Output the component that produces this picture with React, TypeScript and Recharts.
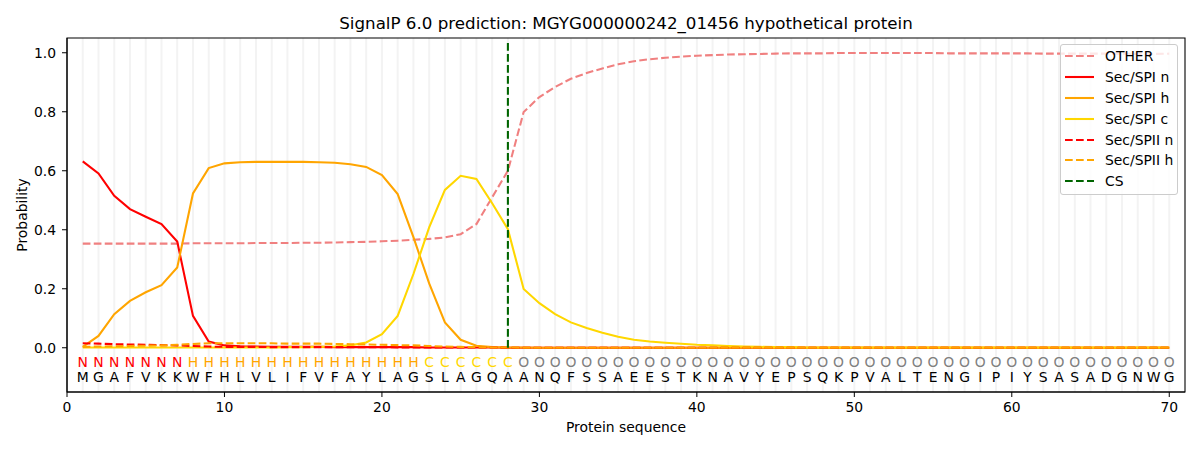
import React from "react";
import { LineChart, Line, XAxis, YAxis, ReferenceLine, ReferenceArea, Legend } from "recharts";

document.body.style.margin = "0";

const FONT = "'DejaVu Sans', Verdana, sans-serif";

const RESIDUES = "MGAFVKKWFHLVLIFVFAYLAGSLAGQAANQFSSAEESTKNAVYEPSQKPVALTENGIPIYSASADGNWG".split("");
const REGIONS = "NNNNNNNHHHHHHHHHHHHHHHCCCCCCOOOOOOOOOOOOOOOOOOOOOOOOOOOOOOOOOOOOOOOOOO".split("");

const OTHER = [
  0.353, 0.353, 0.353, 0.353, 0.353, 0.353, 0.353, 0.354, 0.354, 0.354,
  0.354, 0.355, 0.355, 0.355, 0.356, 0.356, 0.357, 0.358, 0.359, 0.361,
  0.363, 0.366, 0.369, 0.374, 0.385, 0.419, 0.51, 0.6, 0.799, 0.85,
  0.884, 0.912, 0.931, 0.947, 0.961, 0.971, 0.978, 0.983, 0.987, 0.99,
  0.992, 0.994, 0.995, 0.996, 0.997, 0.998, 0.998, 0.998, 0.999, 0.999,
  0.999, 0.999, 0.999, 0.999, 0.999, 0.998, 0.998, 0.998, 0.998, 0.998,
  0.998, 0.997, 0.997, 0.997, 0.997, 0.997, 0.997, 0.996, 0.996, 0.997,
];

const SPI_N = [
  0.632, 0.591, 0.515, 0.47, 0.444, 0.419, 0.36, 0.108, 0.021, 0.008,
  0.005, 0.004, 0.003, 0.003, 0.003, 0.003, 0.002, 0.002, 0.002, 0.002,
  0.002, 0.002, 0.001, 0.001, 0.001, 0.001, 0.001, 0, 0, 0,
  0, 0, 0, 0, 0, 0, 0, 0, 0, 0,
  0, 0, 0, 0, 0, 0, 0, 0, 0, 0,
  0, 0, 0, 0, 0, 0, 0, 0, 0, 0,
  0, 0, 0, 0, 0, 0, 0, 0, 0, 0,
];

const SPI_H = [
  0.003, 0.04, 0.114, 0.159, 0.188, 0.212, 0.272, 0.523, 0.609, 0.625,
  0.629, 0.63, 0.63, 0.63, 0.63, 0.629, 0.627, 0.622, 0.613, 0.585,
  0.521, 0.375, 0.218, 0.086, 0.027, 0.007, 0.002, 0.001, 0.001, 0,
  0, 0, 0, 0, 0, 0, 0, 0, 0, 0,
  0, 0, 0, 0, 0, 0, 0, 0, 0, 0,
  0, 0, 0, 0, 0, 0, 0, 0, 0, 0,
  0, 0, 0, 0, 0, 0, 0, 0, 0, 0,
];

const SPI_C = [
  0.001, 0.001, 0.001, 0.001, 0.001, 0.001, 0.001, 0.001, 0.001, 0.001,
  0.001, 0.001, 0.001, 0.002, 0.002, 0.003, 0.004, 0.008, 0.018, 0.046,
  0.108, 0.25, 0.408, 0.535, 0.583, 0.572, 0.49, 0.402, 0.199, 0.151,
  0.114, 0.086, 0.067, 0.051, 0.037, 0.027, 0.021, 0.017, 0.0135, 0.01,
  0.008, 0.006, 0.004, 0.003, 0.002, 0.002, 0.001, 0.001, 0.001, 0.001,
  0.001, 0.001, 0.001, 0.001, 0.001, 0.001, 0.001, 0.001, 0.001, 0.001,
  0.001, 0.001, 0.001, 0.001, 0.001, 0.001, 0.001, 0.001, 0.001, 0.001,
];

const SPII_N = [
  0.015, 0.014, 0.012, 0.011, 0.01, 0.009, 0.008, 0.006, 0.004, 0.003,
  0.003, 0.003, 0.002, 0.002, 0.002, 0.002, 0.002, 0.002, 0.002, 0.002,
  0.001, 0.001, 0.001, 0.001, 0.001, 0.001, 0.001, 0, 0, 0,
  0, 0, 0, 0, 0, 0, 0, 0, 0, 0,
  0, 0, 0, 0, 0, 0, 0, 0, 0, 0,
  0, 0, 0, 0, 0, 0, 0, 0, 0, 0,
  0, 0, 0, 0, 0, 0, 0, 0, 0, 0,
];

const SPII_H = [
  0.003, 0.004, 0.005, 0.006, 0.007, 0.008, 0.01, 0.013, 0.015, 0.015,
  0.015, 0.015, 0.015, 0.014, 0.014, 0.014, 0.013, 0.012, 0.011, 0.01,
  0.009, 0.008, 0.006, 0.004, 0.003, 0.002, 0.001, 0.001, 0, 0,
  0, 0, 0, 0, 0, 0, 0, 0, 0, 0,
  0, 0, 0, 0, 0, 0, 0, 0, 0, 0,
  0, 0, 0, 0, 0, 0, 0, 0, 0, 0,
  0, 0, 0, 0, 0, 0, 0, 0, 0, 0,
];

const CS_POS = 28;
const X_DOMAIN = [0, 71];
const Y_DOMAIN = [-0.15, 1.05];
const X_TICKS = [0, 10, 20, 30, 40, 50, 60, 70];
const Y_TICKS = [0, 0.2, 0.4, 0.6, 0.8, 1.0];
const REGION_ROW_Y = -0.047;
const RESIDUE_ROW_Y = -0.1;

const REGION_COLORS: Record<string, string> = {
  N: "#ff0000",
  H: "#ffa500",
  C: "#ffd700",
  O: "#808080",
};

const DASH = "7.7 3.3";
const LW = 2.08;

const SERIES = [
  { key: "other", name: "OTHER", color: "#f08080", dashed: true },
  { key: "spiN", name: "Sec/SPI n", color: "#ff0000", dashed: false },
  { key: "spiH", name: "Sec/SPI h", color: "#ffa500", dashed: false },
  { key: "spiC", name: "Sec/SPI c", color: "#ffd700", dashed: false },
  { key: "spiiN", name: "Sec/SPII n", color: "#ff0000", dashed: true },
  { key: "spiiH", name: "Sec/SPII h", color: "#ffa500", dashed: true },
];

const rows = RESIDUES.map((aa, i) => ({
  pos: i + 1,
  aa,
  region: REGIONS[i],
  other: OTHER[i],
  spiN: SPI_N[i],
  spiH: SPI_H[i],
  spiC: SPI_C[i],
  spiiN: SPII_N[i],
  spiiH: SPII_H[i],
}));

function LegendBox() {
  const items = [...SERIES, { key: "cs", name: "CS", color: "#006400", dashed: true }];
  return (
    <div
      style={{
        boxSizing: "border-box",
        width: 118,
        height: 151,
        padding: "1px 0 3px 0",
        border: "1px solid #cccccc",
        borderRadius: 3,
        background: "rgba(255,255,255,0.8)",
        fontFamily: FONT,
        fontSize: 13.9,
        color: "#000",
      }}
    >
      {items.map((it) => (
        <div key={it.key} style={{ height: 20.8, display: "flex", alignItems: "center" }}>
          <svg width={44} height={10} style={{ flex: "none" }}>
            <line
              x1={4}
              x2={33}
              y1={5}
              y2={5}
              stroke={it.color}
              strokeWidth={LW}
              strokeDasharray={it.dashed ? DASH : undefined}
            />
          </svg>
          <span style={{ whiteSpace: "nowrap" }}>{it.name}</span>
        </div>
      ))}
    </div>
  );
}

export default function App() {
  return (
    <div style={{ position: "relative", width: 1200, height: 450, background: "#fff", fontFamily: FONT }}>
      <div
        style={{
          position: "absolute",
          left: 67,
          width: 1118,
          top: 13,
          textAlign: "center",
          fontSize: 16.7,
          lineHeight: "20px",
          color: "#000",
        }}
      >
        SignalP 6.0 prediction: MGYG000000242_01456 hypothetical protein
      </div>
      <LineChart width={1200} height={450} data={rows} margin={{ top: 38, right: 15, left: 0, bottom: 0 }}>
        {rows.map((r) => (
          <ReferenceLine key={`g${r.pos}`} x={r.pos} stroke="#f3f3f3" strokeWidth={2} zIndex={-50} />
        ))}
        <XAxis
          dataKey="pos"
          type="number"
          domain={X_DOMAIN}
          ticks={X_TICKS}
          allowDataOverflow
          height={58}
          tickSize={5}
          tickMargin={5}
          tick={{ fill: "#000", fontSize: 13.9, fontFamily: FONT }}
          tickLine={{ stroke: "#000" }}
          axisLine={{ stroke: "#000" }}
          label={{
            value: "Protein sequence",
            position: "insideBottom",
            offset: 18,
            fill: "#000",
            fontSize: 13.9,
            fontFamily: FONT,
          }}
        />
        <YAxis
          type="number"
          domain={Y_DOMAIN}
          ticks={Y_TICKS}
          allowDataOverflow
          width={67}
          tickSize={5}
          tickMargin={6}
          tickFormatter={(v: number) => v.toFixed(1)}
          tick={{ fill: "#000", fontSize: 13.9, fontFamily: FONT }}
          tickLine={{ stroke: "#000" }}
          axisLine={{ stroke: "#000" }}
          label={{
            content: (props: any) => {
              const vb = props.viewBox || { x: 0, y: 38, width: 67, height: 354 };
              const x = vb.x + 22;
              const y = vb.y + vb.height / 2;
              return (
                <text
                  x={x}
                  y={y}
                  dy="0.36em"
                  textAnchor="middle"
                  transform={`rotate(-90, ${x}, ${y})`}
                  fill="#000"
                  fontSize={13.9}
                  fontFamily={FONT}
                >
                  Probability
                </text>
              );
            },
          }}
        />
        <ReferenceArea
          x1={X_DOMAIN[0]}
          x2={X_DOMAIN[1]}
          y1={Y_DOMAIN[0]}
          y2={Y_DOMAIN[1]}
          fill="none"
          fillOpacity={0}
          stroke="#000"
          strokeWidth={1.1}
          ifOverflow="visible"
        />
        {SERIES.map((s) => (
          <Line
            key={s.key}
            type="linear"
            dataKey={s.key}
            name={s.name}
            stroke={s.color}
            strokeWidth={LW}
            strokeDasharray={s.dashed ? DASH : undefined}
            dot={false}
            activeDot={false}
            isAnimationActive={false}
          />
        ))}
        <Line
          dataKey={() => REGION_ROW_Y}
          stroke="none"
          legendType="none"
          isAnimationActive={false}
          activeDot={false}
          dot={(p: any) => (
            <text
              key={`r${p.index}`}
              x={p.cx}
              y={p.cy}
              dy="0.36em"
              textAnchor="middle"
              fill={REGION_COLORS[p.payload.region]}
              fontSize={13.9}
              fontFamily={FONT}
            >
              {p.payload.region}
            </text>
          )}
        />
        <Line
          dataKey={() => RESIDUE_ROW_Y}
          stroke="none"
          legendType="none"
          isAnimationActive={false}
          activeDot={false}
          dot={(p: any) => (
            <text
              key={`a${p.index}`}
              x={p.cx}
              y={p.cy}
              dy="0.36em"
              textAnchor="middle"
              fill="#000"
              fontSize={13.9}
              fontFamily={FONT}
            >
              {p.payload.aa}
            </text>
          )}
        />
        <ReferenceLine
          segment={[
            { x: CS_POS, y: 0 },
            { x: CS_POS, y: 1.035 },
          ]}
          stroke="#006400"
          strokeWidth={LW}
          strokeDasharray={DASH}
        />
        <Legend
          layout="horizontal"
          verticalAlign="middle"
          align="center"
          content={() => <LegendBox />}
          wrapperStyle={{ position: "absolute", left: 1060, top: 44, right: "auto", bottom: "auto", width: 118, height: 151 }}
        />
      </LineChart>
    </div>
  );
}
